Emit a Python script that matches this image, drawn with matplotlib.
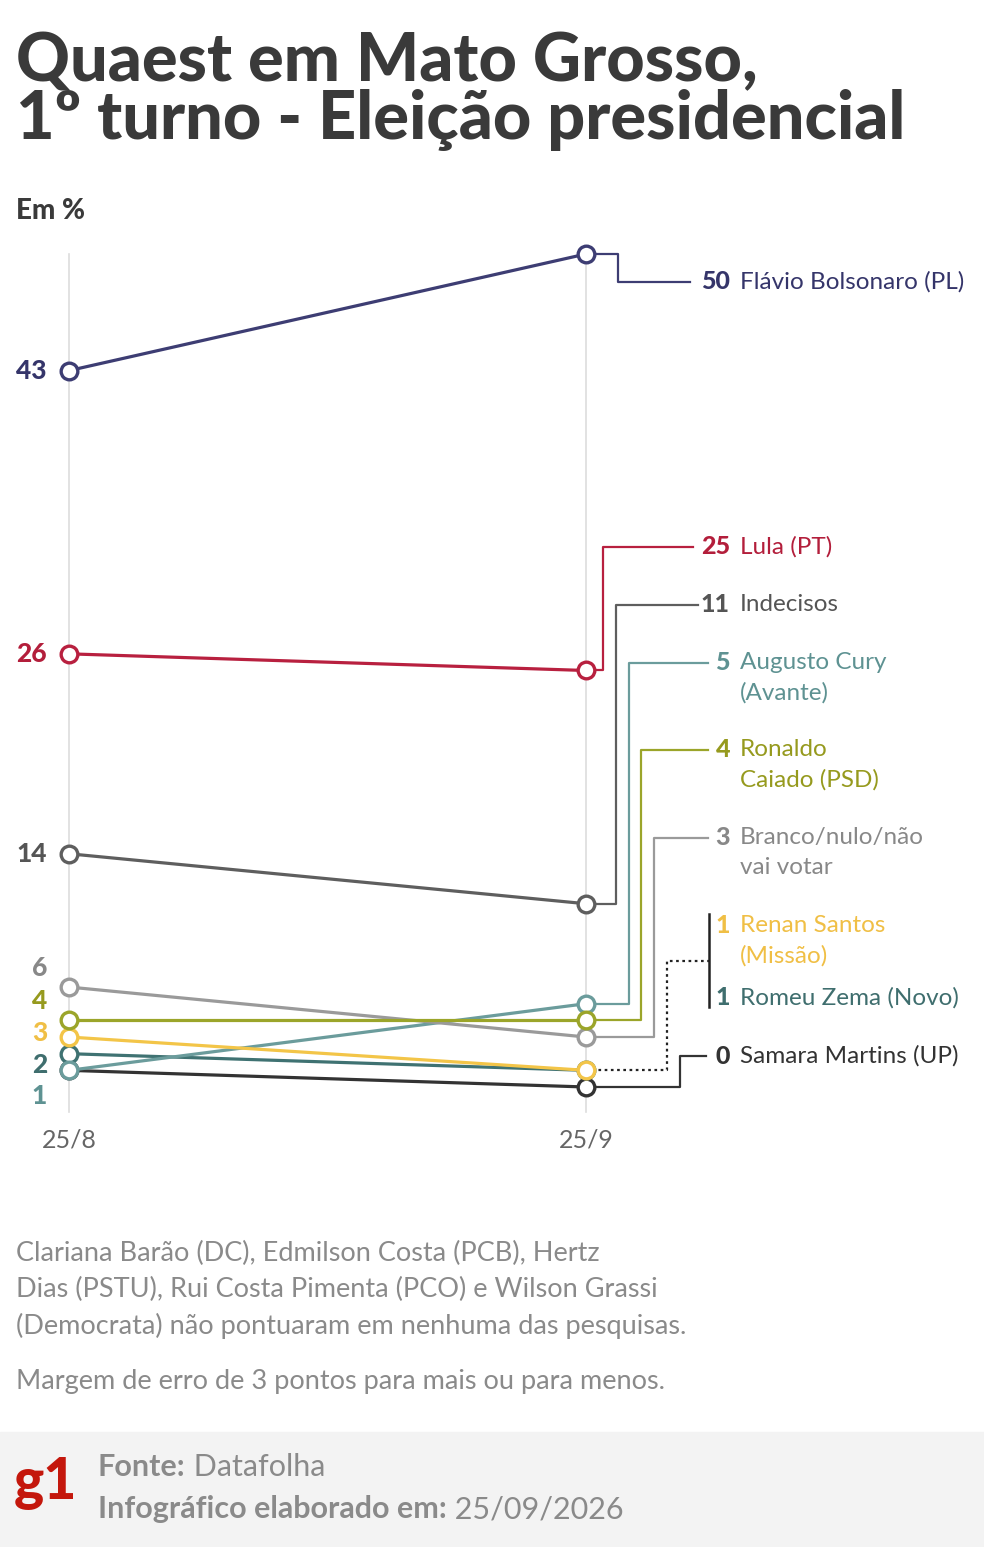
import numpy as np
import matplotlib.pyplot as plt
import matplotlib.font_manager as fm

plt.rcParams['font.family'] = ['Lato', 'DejaVu Sans']

W, H = 984, 1547

# data
dates = ['25/8', '25/9']
names = ['Flávio Bolsonaro (PL)', 'Lula (PT)', 'Indecisos', 'Augusto Cury\n(Avante)',
         'Ronaldo\nCaiado (PSD)', 'Branco/nulo/não\nvai votar', 'Renan Santos\n(Missão)',
         'Romeu Zema (Novo)', 'Samara Martins (UP)']
first = [43, 26, 14, 1, 4, 6, 3, 2, 1]
last = [50, 25, 11, 5, 4, 3, 1, 1, 0]
line_cols = ['#3d3d73', '#b8203f', '#5e5e5e', '#6b9c9c', '#9ba52a', '#9a9a9a',
             '#f3c548', '#3f7272', '#333333']
text_cols = ['#35356a', '#b31e3b', '#555555', '#5e9292', '#969a1e', '#888888',
             '#f0bf45', '#3f6e6e', '#333333']
footnote = ['Clariana Barão (DC), Edmilson Costa (PCB), Hertz',
            'Dias (PSTU), Rui Costa Pimenta (PCO) e Wilson Grassi',
            '(Democrata) não pontuaram em nenhuma das pesquisas.']
margem = 'Margem de erro de 3 pontos para mais ou para menos.'


# pick a heavy family if one is installed
def pick_heavy():
    for fam in ['Lato', 'Roboto', 'Inter', 'Open Sans', 'Noto Sans']:
        try:
            path = fm.findfont(fm.FontProperties(family=fam, weight='black'),
                               fallback_to_default=False)
        except Exception:
            continue
        low = path.lower()
        if 'black' in low or 'heavy' in low or 'extrabold' in low:
            return fam, 'black'
    return 'Lato', 'bold'


heavy_fam, heavy_w = pick_heavy()


# pixel layout helpers
def pxx(px):
    return (px - 69) / 517.0


def pxy(py):
    return (1087 - py) / 16.66


fig = plt.figure(figsize=(W / 100, H / 100), dpi=100)
ax = fig.add_axes([0, 0, 1, 1])
ax.set_xlim(pxx(0), pxx(W))
ax.set_ylim(pxy(H), pxy(0))
ax.axis('off')

# footer band
ax.axhspan(pxy(H), pxy(1432), color='#f3f3f3', zorder=0)

# vertical guides
for i in range(2):
    ax.plot([i, i], [pxy(1112), last[0]], color='#dddddd', lw=1.2, zorder=1)

x = np.arange(2)
order = [8, 7, 3, 6, 5, 4, 2, 1, 0]
for k, i in enumerate(order):
    ax.plot(x, [first[i], last[i]], color=line_cols[i], lw=2.3, zorder=3 + k * 0.1,
            marker='o', ms=12, mfc='white', mec=line_cols[i], mew=2.4)

# left labels (spread to avoid overlap)
left_lab = {0: 371, 1: 654, 2: 854, 5: 968, 4: 1001, 6: 1033, 7: 1065, 3: 1096}
for i, py in left_lab.items():
    ax.text(pxx(47), pxy(py), str(first[i]), ha='right', va='center', fontsize=19,
            family=heavy_fam, fontweight=heavy_w, color=text_cols[i])

# right labels with elbow connectors
label_py = [282, 547, 605, 663, 750, 838, 926, 998, 1056]
elbow_px = [618, 603, 616, 629, 641, 654, None, None, 680]
end_px = [690, 693, 698, 708, 708, 708, None, None, 706]
for i in range(9):
    ly = pxy(label_py[i])
    if elbow_px[i] is not None:
        ex = pxx(elbow_px[i])
        ax.plot([1, ex, ex, pxx(end_px[i])], [last[i], last[i], ly, ly],
                color=line_cols[i], lw=1.6, zorder=2)
    ax.text(pxx(730), ly, str(last[i]), ha='right', va='center', fontsize=18,
            family=heavy_fam, fontweight=heavy_w, color=text_cols[i])
    for j, part in enumerate(names[i].split('\n')):
        ax.text(pxx(740), pxy(label_py[i] + 30 * j), part, ha='left', va='center',
                fontsize=17.5, color=text_cols[i])

# grouped Renan / Romeu bracket
ax.plot([pxx(709), pxx(709)], [pxy(914), pxy(1007)], color='#222222', lw=1.8, zorder=2)
ax.plot([1, pxx(667), pxx(667), pxx(709)], [last[6], last[6], pxy(961), pxy(961)],
        color='#222222', lw=1.6, ls=(0, (1.2, 1.6)), zorder=2)

# dates
for i, d in enumerate(dates):
    ax.text(i, pxy(1140), d, ha='center', va='center', fontsize=18, color='#666666')

# title
for k, s in enumerate(['Quaest em Mato Grosso,', '1º turno - Eleição presidencial']):
    fig.text(16 / W, 1 - (62 + 58 * k) / H, s, fontsize=48, family=heavy_fam,
             fontweight=heavy_w, color='#3a3a3a', va='center', ha='left')
fig.text(16 / W, 1 - 211 / H, 'Em %', fontsize=20, family=heavy_fam, fontweight=heavy_w,
         color='#3a3a3a', va='center', ha='left')

# footnotes
for k, s in enumerate(footnote):
    fig.text(16 / W, 1 - (1253 + 36.5 * k) / H, s, fontsize=19.5, color='#8a8a8a',
             va='center', ha='left')
fig.text(16 / W, 1 - 1381 / H, margem, fontsize=19.5, color='#8a8a8a', va='center',
         ha='left')

# footer
fig.text(14 / W, 1 - 1483 / H, 'g1', fontsize=41, family=heavy_fam, fontweight=heavy_w,
         color='#c4170c', va='center', ha='left')
t1 = fig.text(98 / W, 1 - 1467 / H, 'Fonte:', fontsize=22, fontweight='bold',
              color='#8a8a8a', va='center', ha='left')
ax.annotate(' Datafolha', xy=(1, 0.5), xycoords=t1, va='center', ha='left', fontsize=22,
            color='#8a8a8a')
t2 = fig.text(98 / W, 1 - 1509 / H, 'Infográfico elaborado em:', fontsize=22,
              fontweight='bold', color='#8a8a8a', va='center', ha='left')
ax.annotate(' 25/09/2026', xy=(1, 0.5), xycoords=t2, va='center', ha='left', fontsize=22,
            color='#8a8a8a')

fig.savefig('out.png', dpi=100)
